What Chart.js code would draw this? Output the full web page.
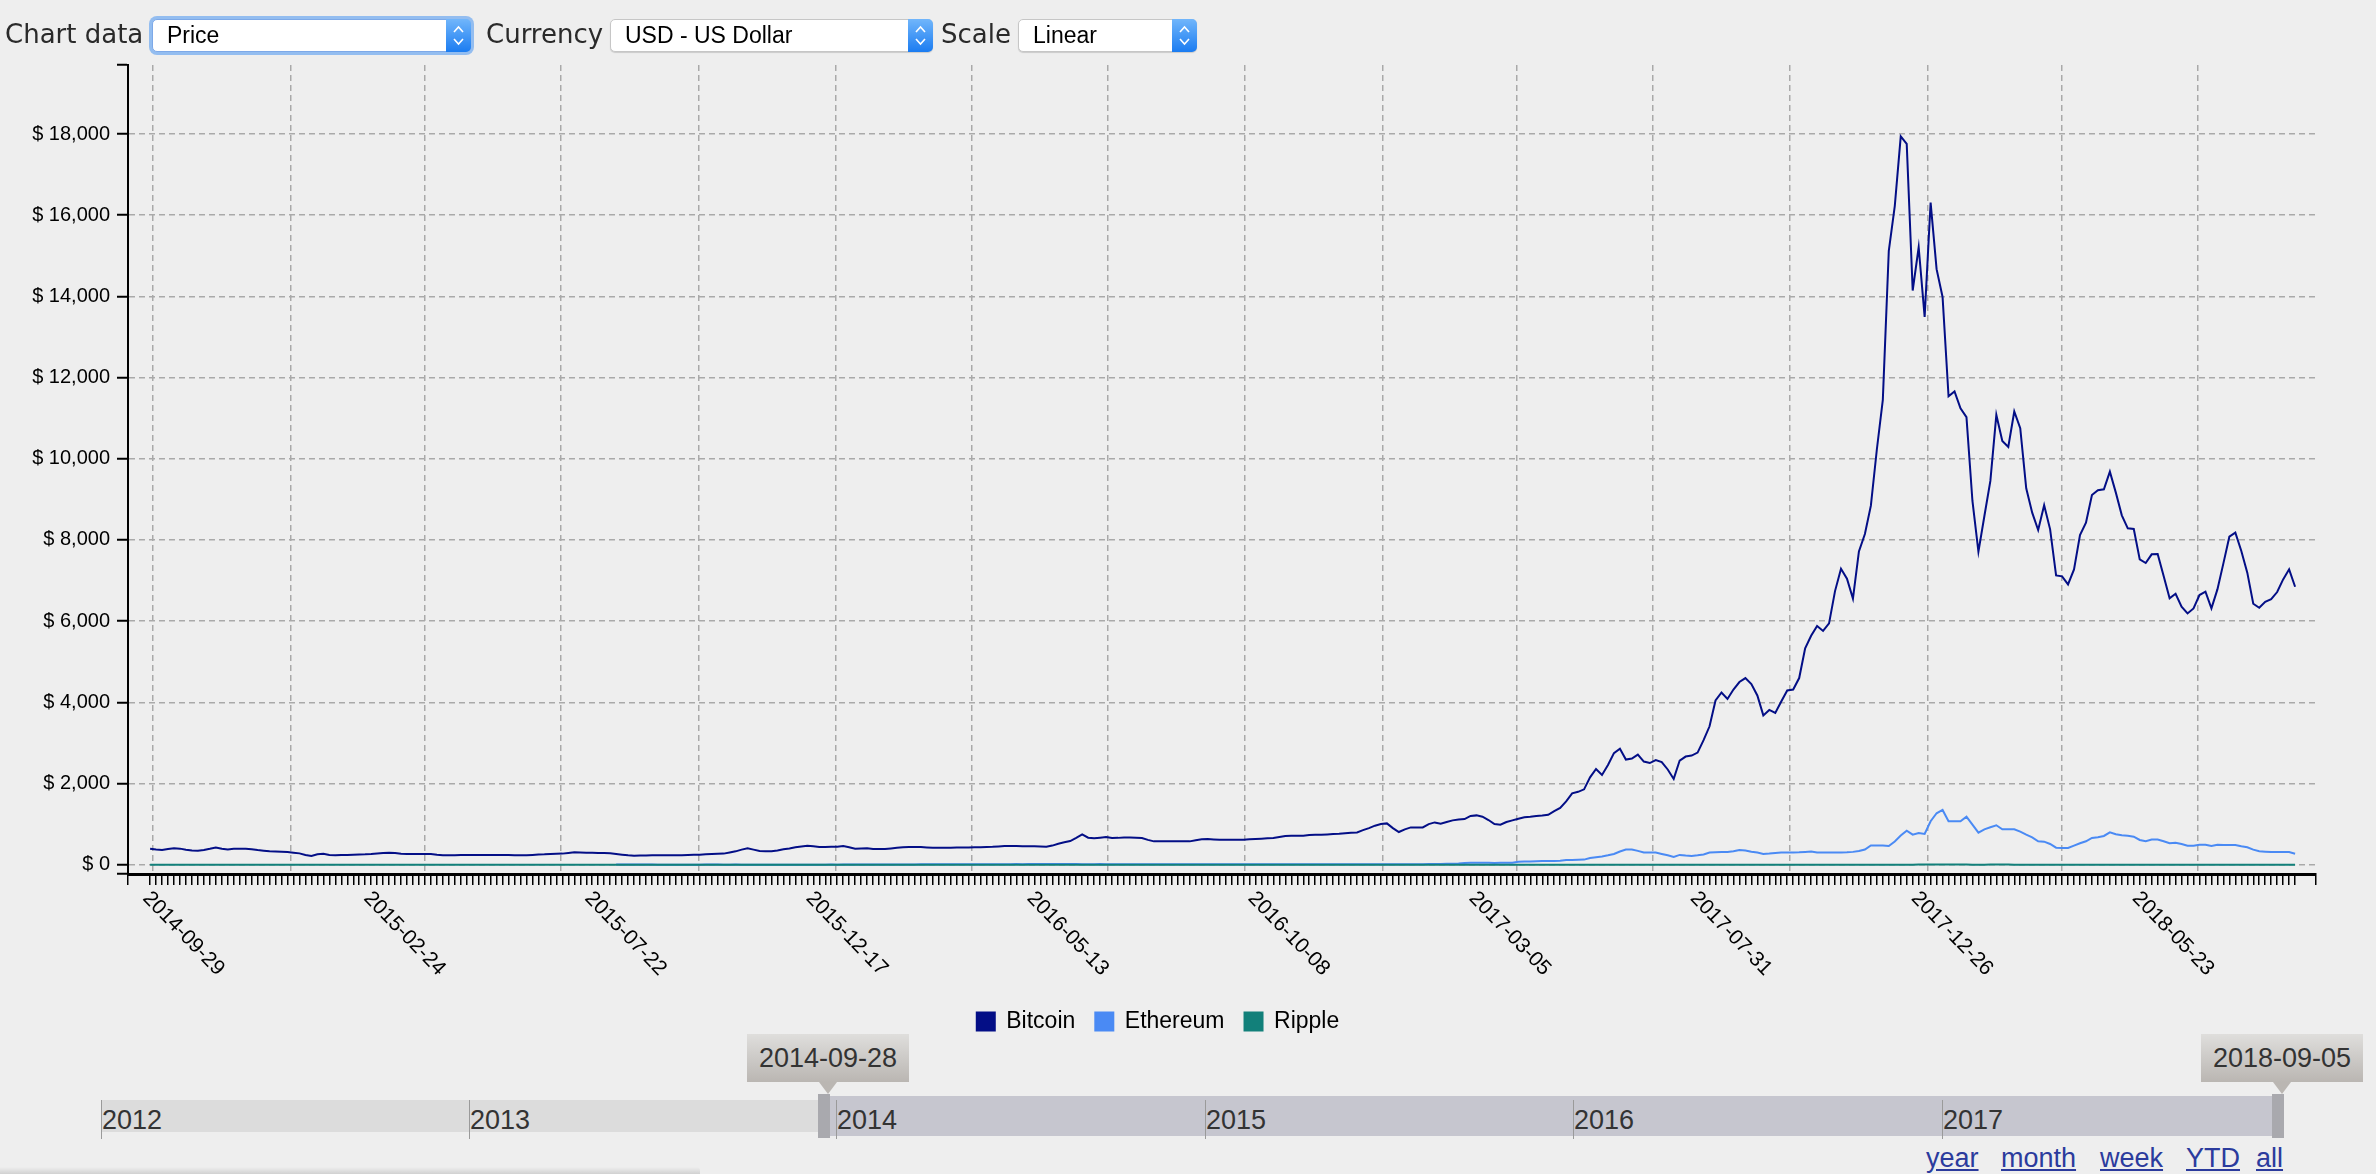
<!DOCTYPE html>
<html>
<head>
<meta charset="utf-8">
<title>Crypto price chart</title>
<script src="https://cdn.jsdelivr.net/npm/chart.js@4.4.1/dist/chart.umd.min.js"></script>
<style>
  html, body { margin: 0; padding: 0; background: #eeeeee; }
  body { width: 2376px; height: 1174px; position: relative; overflow: hidden; font-family: "DejaVu Sans", sans-serif; }
  #wrap { position: absolute; left: 0; top: 0; width: 2376px; height: 1043px; }

  /* top controls */
  .lbl { position: absolute; top: 16px; font-size: 26px; line-height: 36px; color: #2a2a2a; }
  .sel { position: absolute; top: 19px; height: 33px; box-sizing: border-box; background: #fff;
         border: 1px solid #c6c6c6; border-radius: 5px; padding-left: 14px;
         font: 23px "Liberation Sans", Arial, sans-serif; line-height: 31px; color: #000;
         box-shadow: 0 1px 1px rgba(0,0,0,.15); }
  .sel.focus { border-color: #7da9e8; box-shadow: 0 0 0 3px #93bdf0; }
  .arr { position: absolute; right: -1px; top: -1px; bottom: -1px; width: 25px; border-radius: 0 5px 5px 0;
         background: linear-gradient(#71b6fb, #1b7cf1); }
  .arr svg { display: block; }

  /* range navigator */
  .nav { position: absolute; left: 0; top: 0; }
  .bar { position: absolute; }
  .yr { position: absolute; top: 1100px; height: 39px; border-left: 1px solid #9a9a9a;
        font: 27px "Liberation Sans", Arial, sans-serif; color: #333; line-height: 40px; }
  .hdl { position: absolute; top: 1094px; width: 12px; height: 44px; background: #a9a9ae; }
  .tip { position: absolute; top: 1034px; width: 162px; height: 48px; text-align: center;
         background: linear-gradient(#dfdedc, #bab6b2); font: 27px "Liberation Sans", Arial, sans-serif;
         color: #333; line-height: 48px; }
  .tip::after { content: ""; position: absolute; left: 50%; margin-left: -9px; top: 48px;
         border-left: 9px solid transparent; border-right: 9px solid transparent; border-top: 12px solid #bab6b2; }
  .links { position: absolute; top: 1143px; font: 27px "Liberation Sans", Arial, sans-serif; }
  .links a { position: absolute; color: #2b3b9d; text-decoration: underline; white-space: nowrap; }
  .shade { position: absolute; left: 0; top: 1167px; width: 700px; height: 7px;
           background: linear-gradient(to bottom, rgba(0,0,0,0), rgba(0,0,0,.12)); border-radius: 0 4px 0 0; }
</style>
</head>
<body>

<div id="wrap"><canvas id="chart"></canvas></div>

<div class="lbl" style="left:5px">Chart data</div>
<div class="sel focus" style="left:152px;width:319px">Price<span class="arr"><svg width="25" height="33" viewBox="0 0 25 33"><polyline points="8,13 12.5,8 17,13" fill="none" stroke="#fff" stroke-width="1.6"/><polyline points="8,20 12.5,25 17,20" fill="none" stroke="#fff" stroke-width="1.6"/></svg></span></div>
<div class="lbl" style="left:486px">Currency</div>
<div class="sel" style="left:610px;width:323px">USD - US Dollar<span class="arr"><svg width="25" height="33" viewBox="0 0 25 33"><polyline points="8,13 12.5,8 17,13" fill="none" stroke="#fff" stroke-width="1.6"/><polyline points="8,20 12.5,25 17,20" fill="none" stroke="#fff" stroke-width="1.6"/></svg></span></div>
<div class="lbl" style="left:941px">Scale</div>
<div class="sel" style="left:1018px;width:179px">Linear<span class="arr"><svg width="25" height="33" viewBox="0 0 25 33"><polyline points="8,13 12.5,8 17,13" fill="none" stroke="#fff" stroke-width="1.6"/><polyline points="8,20 12.5,25 17,20" fill="none" stroke="#fff" stroke-width="1.6"/></svg></span></div>

<div class="nav">
  <div class="bar" style="left:101px;top:1100px;width:722px;height:32px;background:#dcdcdc"></div>
  <div class="bar" style="left:826px;top:1096px;width:1452px;height:40px;background:#c6c6cf"></div>
  <div class="yr" style="left:101px">2012</div>
  <div class="yr" style="left:469px">2013</div>
  <div class="yr" style="left:836px">2014</div>
  <div class="yr" style="left:1205px">2015</div>
  <div class="yr" style="left:1573px">2016</div>
  <div class="yr" style="left:1942px">2017</div>
  <div class="hdl" style="left:818px"></div>
  <div class="hdl" style="left:2272px"></div>
  <div class="tip" style="left:747px">2014-09-28</div>
  <div class="tip" style="left:2201px">2018-09-05</div>
  <div class="links">
    <a style="left:1926px">year</a>
    <a style="left:2001px">month</a>
    <a style="left:2100px">week</a>
    <a style="left:2186px">YTD</a>
    <a style="left:2256px">all</a>
  </div>
  <div class="shade"></div>
</div>

<script>
// one reading every 4 days, starting 2014-09-29
const startDate = '2014-09-29';
const stepDays = 4;

const bitcoin = [
  394, 375, 360, 385, 405, 395, 370, 350, 345, 360, 390, 425, 390, 375, 390, 395, 392, 380, 360, 345,
  330, 325, 320, 312, 295, 278, 240, 213, 255, 268, 240, 232, 235, 240, 246, 250, 254, 262, 275, 290,
  295, 285, 270, 262, 262, 260, 262, 262, 245, 232, 230, 232, 235, 238, 238, 238, 240, 240, 238, 240,
  236, 232, 230, 232, 240, 250, 255, 265, 268, 272, 290, 303, 298, 295, 295, 290, 285, 280, 262, 246,
  232, 222, 225, 228, 230, 230, 230, 230, 230, 232, 238, 242, 246, 255, 262, 268, 272, 300, 328, 370,
  402, 370, 336, 332, 328, 350, 377, 400, 430, 450, 467, 455, 435, 438, 440, 443, 459, 430, 394, 400,
  405, 385, 385, 385, 400, 415, 430, 435, 435, 435, 425, 418, 418, 418, 418, 420, 422, 425, 428, 430,
  435, 440, 450, 459, 459, 458, 455, 455, 455, 450, 443, 470, 517, 550, 582, 660, 746, 664, 648, 665,
  681, 656, 660, 670, 672, 665, 656, 610, 574, 574, 575, 575, 574, 574, 574, 600, 625, 631, 622, 615,
  615, 615, 612, 615, 625, 635, 640, 648, 656, 680, 705, 710, 713, 713, 730, 735, 740, 746, 755, 763,
  775, 785, 795, 850, 900, 960, 1000, 1017, 900, 804, 870, 918, 918, 918, 1000, 1041, 1009, 1050, 1091, 1110,
  1123, 1200, 1214, 1181, 1100, 1000, 984, 1050, 1091, 1132, 1170, 1181, 1197, 1210, 1230, 1320, 1400, 1560, 1758, 1795,
  1856, 2150, 2357, 2210, 2455, 2748, 2858, 2589, 2613, 2711, 2540, 2503, 2577, 2528, 2345, 2112, 2565, 2663, 2687, 2760,
  3066, 3409, 4045, 4241, 4082, 4315, 4499, 4597, 4450, 4168, 3678, 3812, 3739, 4020, 4290, 4315, 4597, 5331, 5637, 5882,
  5759, 5943, 6739, 7290, 7045, 6555, 7718, 8147, 8845, 10228, 11452, 15124, 16226, 17940, 17756, 14145, 15210, 13496, 16311, 14671,
  13986, 11538, 11660, 11244, 11024, 8960, 7710, 8590, 9453, 11080, 10440, 10290, 11163, 10752, 9272, 8672, 8245, 8853, 8261, 7127,
  7102, 6905, 7275, 8121, 8426, 9108, 9223, 9248, 9683, 9165, 8606, 8286, 8269, 7521, 7431, 7645, 7653, 7110, 6560, 6675,
  6354, 6190, 6313, 6642, 6724, 6313, 6782, 7423, 8080, 8179, 7727, 7193, 6428, 6329, 6477, 6543, 6716, 7028, 7275, 6847
];

// Ethereum starts trading at reading no. 78 (August 2015)
const ethereumStart = 78;
const ethereum = [
  2.8, 1.1, 1.2, 1.3, 1.2, 1.3, 1.2, 0.9, 0.9, 0.9, 0.7, 0.6, 0.6, 0.7, 0.5, 1.0, 1.0, 1.0, 0.9, 0.9, 1.0, 0.9,
  0.9, 0.9, 0.9, 0.9, 0.8, 0.9, 0.9, 0.9, 0.9, 0.9, 0.9, 0.9, 0.9, 0.95, 1.0, 0.95, 1.0, 1.2, 1.5, 1.5,
  2.1, 2.3, 2.4, 2.7, 3.2, 5.5, 5.6, 6.0, 6.5, 9.3, 12.5, 10.5, 11.0, 11.0, 8.5, 8.0, 7.5, 7.5, 7.5, 9.0,
  9.0, 10.0, 10.0, 12.0, 13.0, 14.0, 13.0, 13.5, 14.0, 14.0, 14.0, 13.5, 17.0, 19.0, 16.0, 13.5, 12.5, 11.8, 12.5, 14.0,
  11.5, 12.5, 11.0, 11.0, 10.0, 11.5, 11.0, 12.5, 12.0, 12.0, 12.0, 12.5, 13.0, 12.5, 12.0, 12.5, 12.0, 12.0, 11.5, 11.5,
  11.0, 10.0, 10.5, 11.0, 10.0, 9.8, 9.5, 8.0, 8.0, 7.5, 7.3, 8.0, 8.5, 8.2, 8.0, 8.3, 8.0, 7.9, 7.5, 7.3,
  7.5, 8.0, 9.5, 10.5, 10.0, 10.5, 10.3, 10.8, 10.6, 10.7, 11.0, 12.5, 12.3, 13.0, 15.0, 19.0, 19.0, 20.0, 20.0, 28.0,
  43, 45, 50, 48, 47, 43, 50, 48, 48, 72, 80, 78, 86, 92, 90, 90, 95, 117, 117, 120,
  125, 166, 185, 203, 230, 264, 325, 374, 374, 340, 300, 300, 300, 264, 230, 190, 240, 225, 215, 230,
  252, 300, 305, 310, 313, 330, 362, 350, 320, 300, 264, 275, 290, 300, 300, 300, 305, 315, 325, 300,
  300, 300, 300, 300, 305, 315, 338, 374, 472, 472, 472, 460, 570, 717, 838, 740, 781, 756, 1069, 1266,
  1348, 1069, 1069, 1069, 1184, 986, 789, 871, 921, 970, 871, 871, 871, 814, 740, 674, 575, 567, 510, 419,
  411, 411, 469, 526, 575, 658, 674, 707, 797, 748, 723, 715, 690, 608, 575, 617, 617, 575, 526, 542,
  510, 469, 469, 493, 493, 460, 493, 485, 485, 485, 452, 427, 370, 329, 321, 312, 312, 312, 312, 271
];

const ripple = [
  .005, .005, .005, .005, .005, .005, .005, .005, .005, .006, .007, .009, .013, .018, .024, .022, .02, .019, .018, .017,
  .019, .02, .022, .02, .018, .016, .015, .017, .019, .017, .016, .015, .014, .013, .012, .012, .011, .011, .011, .011,
  .011, .01, .009, .008, .008, .008, .008, .008, .008, .008, .009, .01, .012, .011, .01, .009, .009, .008, .008, .008,
  .008, .008, .009, .009, .01, .009, .009, .008, .008, .008, .008, .008, .008, .007, .007, .007, .007, .007, .007, .007,
  .006, .006, .006, .006, .006, .006, .006, .006, .006, .005, .005, .005, .005, .005, .005, .005, .005, .005, .005, .005,
  .004, .004, .004, .004, .005, .005, .006, .006, .006, .006, .006, .006, .006, .006, .006, .006, .006, .006, .006, .006,
  .006, .006, .006, .006, .007, .007, .008, .008, .008, .008, .008, .008, .008, .008, .007, .007, .007, .006, .006, .006,
  .006, .006, .006, .006, .006, .006, .006, .006, .006, .006, .006, .006, .006, .006, .006, .006, .007, .007, .007, .007,
  .007, .007, .007, .007, .007, .007, .007, .007, .007, .007, .007, .007, .007, .007, .007, .007, .007, .007, .008, .008,
  .008, .008, .008, .009, .009, .01, .01, .01, .009, .009, .009, .008, .008, .008, .007, .007, .007, .007, .007, .007,
  .007, .007, .006, .006, .006, .006, .006, .006, .006, .006, .006, .006, .006, .006, .006, .007, .006, .007, .007, .008,
  .009, .01, .01, .01, .01, .009, .018, .03, .036, .044, .05, .03, .04, .05, .07, .09, .18, .22, .26, .32,
  .3, .28, .26, .27, .28, .3, .28, .26, .27, .28, .28, .26, .25, .26, .24, .18, .2, .2, .19, .18,
  .17, .18, .19, .2, .21, .23, .22, .22, .21, .2, .18, .19, .2, .2, .21, .21, .2, .2, .2, .21,
  .21, .2, .2, .22, .23, .23, .24, .25, .24, .26, .25, .33, .6, .75, .86, .9, 1.1, 1.7, 2.1, 3.1,
  2.3, 1.4, 1.3, 1.2, 1.1, .85, .72, .75, 1.05, 1.1, 1.02, 1.05, .95, .9, .84, .8, .73, .7, .62, .54,
  .5, .49, .5, .55, .62, .75, .85, .87, .84, .8, .72, .68, .68, .64, .63, .66, .65, .6, .55, .5,
  .48, .49, .5, .48, .47, .44, .45, .46, .47, .46, .45, .42, .36, .33, .32, .3, .29, .31, .34, .3
];

// rotated date labels under the x axis, one every 37 readings
const dateLabels = ['2014-09-29', '2015-02-24', '2015-07-22', '2015-12-17', '2016-05-13',
                    '2016-10-08', '2017-03-05', '2017-07-31', '2017-12-26', '2018-05-23'];
const labelEvery = 37;

// vertical grid lines sit on quarter starts
const quarterDates = ['2014-10-01', '2015-01-01', '2015-04-01', '2015-07-01', '2015-10-01', '2016-01-01',
                      '2016-04-01', '2016-07-01', '2016-10-01', '2017-01-01', '2017-04-01', '2017-07-01',
                      '2017-10-01', '2018-01-01', '2018-04-01', '2018-07-01'];

const yTickValues = [0, 2000, 4000, 6000, 8000, 10000, 12000, 14000, 16000, 18000];

const COLORS = { btc: '#030e86', eth: '#4a8af4', xrp: '#12807a' };
const GRID = '#a9a9a9';
const CLEAR = 'rgba(0,0,0,0)';
const X_MIN = -3.7, X_MAX = 362.5;
const Y_MIN = -230, Y_MAX = 19700;

const dayMs = 86400000;
const toIndex = d => (Date.parse(d) - Date.parse(startDate)) / dayMs / stepDays;

const xTicks = bitcoin.map((v, i) => ({ value: i }))
  .concat(quarterDates.map(d => ({ value: toIndex(d), quarter: true })))
  .concat([{ value: X_MIN }, { value: X_MAX }])
  .sort((a, b) => a.value - b.value);

const yTicks = [Y_MIN].concat(yTickValues, [Y_MAX]);

const series = (arr, offset) => arr.map((v, i) => ({ x: i + offset, y: v }));

const xLabelsPlugin = {
  id: 'xLabels',
  afterDraw(chart) {
    const { ctx, chartArea } = chart;
    const xScale = chart.scales.x;
    ctx.save();
    ctx.font = '21px "Liberation Sans", Arial, sans-serif';
    ctx.fillStyle = '#000';
    ctx.textAlign = 'left';
    ctx.textBaseline = 'middle';
    dateLabels.forEach((label, k) => {
      const px = xScale.getPixelForValue(k * labelEvery);
      ctx.save();
      ctx.translate(px - 4, chartArea.bottom + 21);
      ctx.rotate(46 * Math.PI / 180);
      ctx.fillText(label, 0, 0);
      ctx.restore();
    });
    ctx.restore();
  }
};

Chart.defaults.font.family = '"Liberation Sans", Arial, sans-serif';

new Chart(document.getElementById('chart'), {
  type: 'line',
  data: {
    datasets: [
      { label: 'Bitcoin', data: series(bitcoin, 0), borderColor: COLORS.btc, backgroundColor: COLORS.btc, borderWidth: 2, order: 0 },
      { label: 'Ethereum', data: series(ethereum, ethereumStart), borderColor: COLORS.eth, backgroundColor: COLORS.eth, borderWidth: 2, order: 2 },
      { label: 'Ripple', data: series(ripple, 0), borderColor: COLORS.xrp, backgroundColor: COLORS.xrp, borderWidth: 2, order: 1 }
    ]
  },
  options: {
    responsive: true,
    maintainAspectRatio: false,
    animation: false,
    events: [],
    layout: { padding: { top: 65, right: 60, left: 0, bottom: 0 } },
    elements: { point: { radius: 0 }, line: { tension: 0 } },
    plugins: {
      tooltip: { enabled: false },
      legend: {
        position: 'bottom',
        labels: {
          boxWidth: 18, boxHeight: 18, padding: 20, color: '#000', font: { size: 23 },
          sort: (a, b) => a.datasetIndex - b.datasetIndex
        }
      }
    },
    scales: {
      x: {
        type: 'linear',
        min: X_MIN,
        max: X_MAX,
        afterBuildTicks: scale => { scale.ticks = xTicks; },
        afterFit: scale => { scale.height = 116; },
        ticks: { display: false, autoSkip: false },
        grid: {
          color: c => (c.tick && c.tick.quarter) ? GRID : CLEAR,
          lineWidth: 1.5,
          tickLength: 11,
          tickWidth: 1.5,
          tickColor: c => (c.tick && c.tick.quarter) ? CLEAR : '#000'
        },
        border: { color: '#000', width: 3, dash: [6, 4] }
      },
      y: {
        min: Y_MIN,
        max: Y_MAX,
        afterBuildTicks: scale => { scale.ticks = yTicks.map(v => ({ value: v })); },
        afterFit: scale => { scale.width = 128; },
        ticks: {
          autoSkip: false,
          padding: 7,
          color: '#000',
          font: { size: 20 },
          callback: v => yTickValues.includes(v) ? '$ ' + v.toLocaleString('en-US') : ''
        },
        grid: {
          color: c => (c.tick && yTickValues.includes(c.tick.value)) ? GRID : CLEAR,
          lineWidth: 1.5,
          tickLength: 11,
          tickWidth: 2,
          tickColor: '#000'
        },
        border: { color: '#000', width: 2, dash: [6, 4] }
      }
    }
  },
  plugins: [xLabelsPlugin]
});
</script>
</body>
</html>
